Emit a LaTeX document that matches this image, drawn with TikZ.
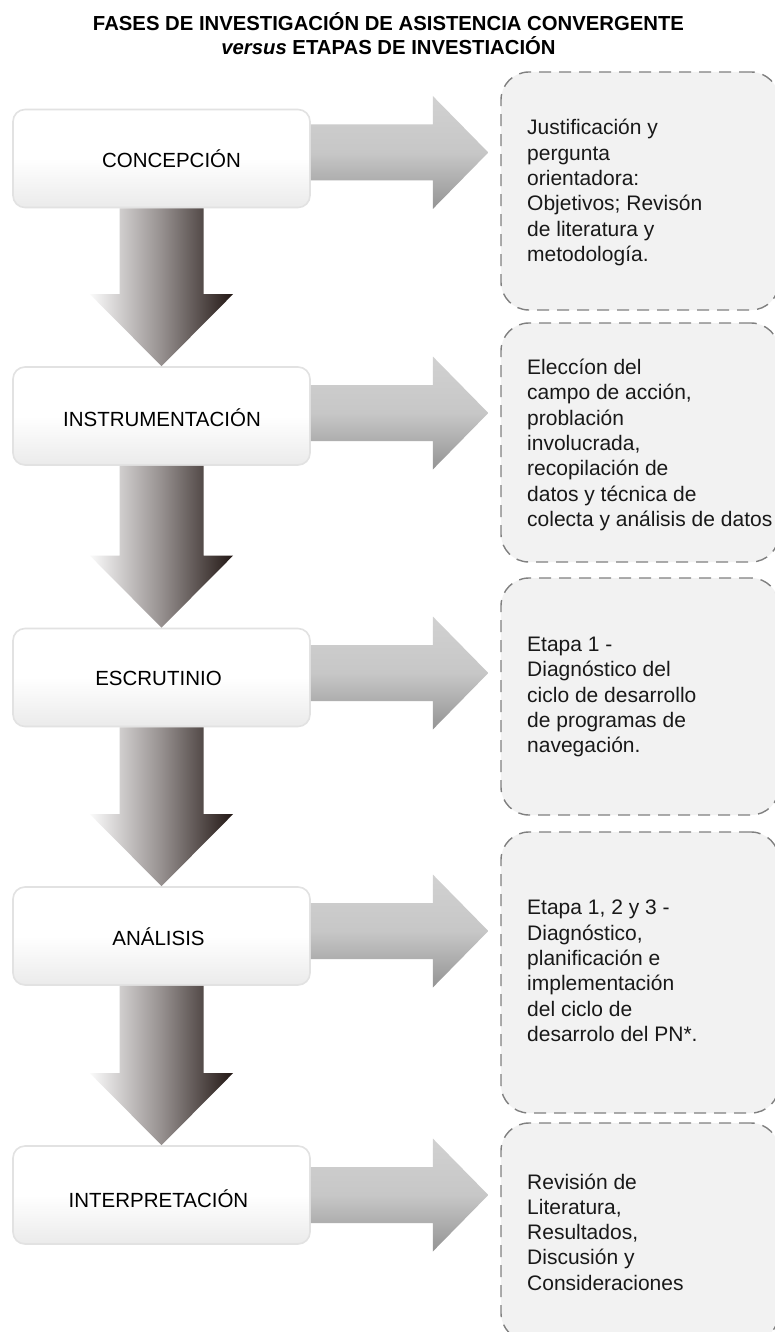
\documentclass[tikz,border=0pt]{standalone}
\usepackage{fontspec}
\setmainfont{Liberation Sans}
\usetikzlibrary{calc}
\definecolor{darkbrown}{RGB}{35,24,21}
\definecolor{lightend}{RGB}{250,250,250}
\definecolor{dashgray}{RGB}{128,128,128}
\definecolor{rfill}{RGB}{242,242,242}
\definecolor{lborder}{RGB}{226,226,226}
\begin{document}
\begin{tikzpicture}[x=1pt,y=-1pt,
  leftbox/.style={draw=lborder, line width=1.6pt, rounded corners=12pt,
    top color=white, bottom color=black!8, middle color=white,
    minimum width=297pt, minimum height=98pt, inner sep=0pt},
  lefttext/.style={font=\fontsize{20.5}{24}\selectfont, inner sep=0pt, text=black},
  rbox/.style={draw=dashgray, line width=1.4pt, dash pattern=on 12pt off 8pt,
    fill=rfill, rounded corners=28pt, minimum width=278pt, inner sep=0pt},
  rtext/.style={font=\fontsize{21}{25.3}\selectfont, align=left, anchor=west,
    inner sep=0pt, text=black!90},
  darr/.style={left color=lightend, right color=darkbrown, middle color={rgb,255:red,150;green,144;blue,143}},
  rarr/.style={top color=black!18, bottom color=black!42, middle color=black!22},
  titletext/.style={font=\fontsize{20.3}{24}\selectfont\bfseries, align=center, inner sep=0pt}
]
\useasboundingbox[fill=white] (0,0) rectangle (774,1332);

% title
\node[titletext] (title) at (388.5,34) {FASES DE INVESTIGACIÓN DE ASISTENCIA CONVERGENTE\\\textit{versus} ETAPAS DE INVESTIACIÓN};

% left boxes
\node[leftbox] (L1) at (161.5,158.5) {};
\node[leftbox] (L2) at (161.5,416) {};
\node[leftbox] (L3) at (161.5,677.5) {};
\node[leftbox] (L4) at (161.5,936) {};
\node[leftbox] (L5) at (161.5,1195) {};
\node[lefttext] (T1) at (171.5,159) {CONCEPCIÓN};
\node[lefttext] (T2) at (162,418) {INSTRUMENTACIÓN};
\node[lefttext] (T3) at (158.5,678) {ESCRUTINIO};
\node[lefttext] (T4) at (158.5,937) {ANÁLISIS};
\node[lefttext] (T5) at (158.5,1199) {INTERPRETACIÓN};

% right dashed boxes
\node[rbox, minimum height=238pt] (R1) at (640,191) {};
\node[rbox, minimum height=239pt] (R2) at (640,442.5) {};
\node[rbox, minimum height=237pt] (R3) at (640,696.5) {};
\node[rbox, minimum height=281pt] (R4) at (640,972.5) {};
\node[rbox, minimum height=218pt] (R5) at (640,1232) {};

\node[rtext] (S1) at (527,192.5) {Justificación y\\pergunta\\orientadora:\\Objetivos; Revisón\\de literatura y\\metodología.};
\node[rtext] (S2) at (527,445) {Eleccíon del\\campo de acción,\\problación\\involucrada,\\recopilación de\\datos y técnica de\\colecta y análisis de datos};
\node[rtext] (S3) at (527,697) {Etapa 1 -\\Diagnóstico del\\ciclo de desarrollo\\de programas de\\navegación.};
\node[rtext] (S4) at (527,971) {Etapa 1, 2 y 3 -\\Diagnóstico,\\planificación e\\implementación\\del ciclo de\\desarrolo del PN*.};
\node[rtext] (S5) at (527,1232) {Revisión de\\Literatura,\\Resultados,\\Discusión y\\Consideraciones};

% right block arrows
\foreach \i/\c in {1/152.5, 2/413, 3/673, 4/931, 5/1195} {
  \path[rarr] ($(L\i.east |- 0,\c)+(0,-28)$) -- ++(122,0) -- ++(0,-28.5)
    -- ($(R\i.west |- 0,\c)+(-12,0)$)
    -- ($(L\i.east |- 0,\c)+(122,56.5)$) -- ++(0,-28.5)
    -- ($(L\i.east |- 0,\c)+(0,28)$) -- cycle;
}

% down block arrows
\foreach \i/\j in {1/2, 2/3, 3/4, 4/5} {
  \path[darr] ($(L\i.south)+(-42,0)$) -- ($(L\i.south)+(42,0)$)
    -- ($(L\j.north)+(42,-72)$) -- ($(L\j.north)+(71.5,-72)$)
    -- (L\j.north)
    -- ($(L\j.north)+(-71.5,-72)$) -- ($(L\j.north)+(-42,-72)$) -- cycle;
}
\end{tikzpicture}
\end{document}
